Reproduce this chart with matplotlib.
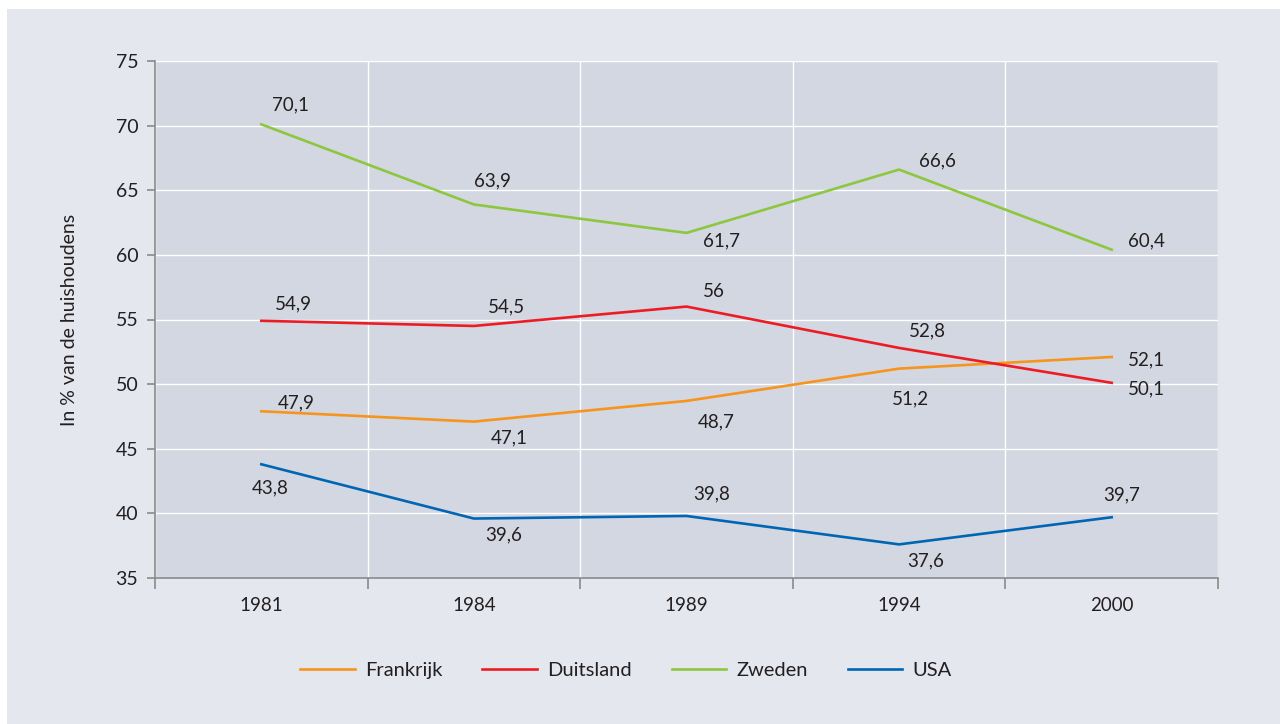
import matplotlib.pyplot as plt
from matplotlib.patches import Rectangle

# Data
years = ["1981", "1984", "1989", "1994", "2000"]
frankrijk = [47.9, 47.1, 48.7, 51.2, 52.1]
duitsland = [54.9, 54.5, 56.0, 52.8, 50.1]
zweden = [70.1, 63.9, 61.7, 66.6, 60.4]
usa = [43.8, 39.6, 39.8, 37.6, 39.7]

series = [
    ("Frankrijk", frankrijk, "#f7941d"),
    ("Duitsland", duitsland, "#ed1c24"),
    ("Zweden", zweden, "#8dc63f"),
    ("USA", usa, "#0066b3"),
]

# label offsets (points) per series/point, picked to match the original layout
offsets = {
    "Frankrijk": [(12, 6), (12, -12), (8, -15), (-5, -22), (12, -2)],
    "Duitsland": [(10, 12), (10, 14), (12, 11), (7, 12), (12, -4)],
    "Zweden": [(8, 14), (0, 17), (12, -6), (14, 6), (12, 6)],
    "USA": [(-7, -17), (8, -12), (5, 16), (6, -12), (-6, 16)],
}

plt.rcParams['font.family'] = ['Lato', 'DejaVu Sans']
text_color = "#231f20"

fig = plt.figure(figsize=(12.8, 7.24), dpi=100)
fig.patch.set_facecolor("white")
bg = Rectangle((7 / 1280, 0), 1 - 7 / 1280, 1 - 9 / 724,
               transform=fig.transFigure, facecolor="#e4e7ee",
               edgecolor="none", zorder=-10)
fig.add_artist(bg)

ax = fig.add_axes([155 / 1280, 1 - 578 / 724, (1218 - 155) / 1280, (578 - 61) / 724])
ax.set_facecolor("#d3d7e1")

x = list(range(len(years)))
for name, vals, color in series:
    ax.plot(x, vals, color=color, lw=1.9, label=name, zorder=3)
    for xi, v, off in zip(x, vals, offsets[name]):
        txt = f"{v:g}".replace(".", ",")
        ax.annotate(txt, (xi, v), xytext=off, textcoords="offset points",
                    ha="left", va="center", fontsize=13.5, color=text_color)

ax.set_xlim(-0.5, len(years) - 0.5)
ax.set_ylim(35, 75)
ax.set_yticks(range(35, 80, 5))
ax.set_xticks([i - 0.5 for i in range(len(years) + 1)])
ax.set_xticklabels([])
ax.set_xticks(x, minor=True)
ax.set_xticklabels(years, minor=True)
ax.tick_params(axis="x", which="minor", length=0, pad=14, labelsize=13.5, labelcolor=text_color)
ax.tick_params(axis="x", which="major", length=8, color="#8a8a8a", width=1.2)
ax.tick_params(axis="y", length=6, color="#8a8a8a", width=1.2, labelsize=14,
               labelcolor=text_color, pad=6)

ax.grid(True, which="major", color="white", lw=1.0)
ax.set_axisbelow(True)
for s in ["top", "right"]:
    ax.spines[s].set_visible(False)
for s in ["left", "bottom"]:
    ax.spines[s].set_color("#8a8a8a")
    ax.spines[s].set_linewidth(1.2)

ax.set_ylabel("In % van de huishoudens", fontsize=14, color=text_color, labelpad=27)

fig.legend(loc="center", bbox_to_anchor=(626 / 1280, 1 - 670 / 724), ncol=4,
           frameon=False, fontsize=14.5, handlelength=2.7, columnspacing=2.0,
           handletextpad=0.5, labelcolor=text_color)

fig.savefig("out.png", dpi=100)
